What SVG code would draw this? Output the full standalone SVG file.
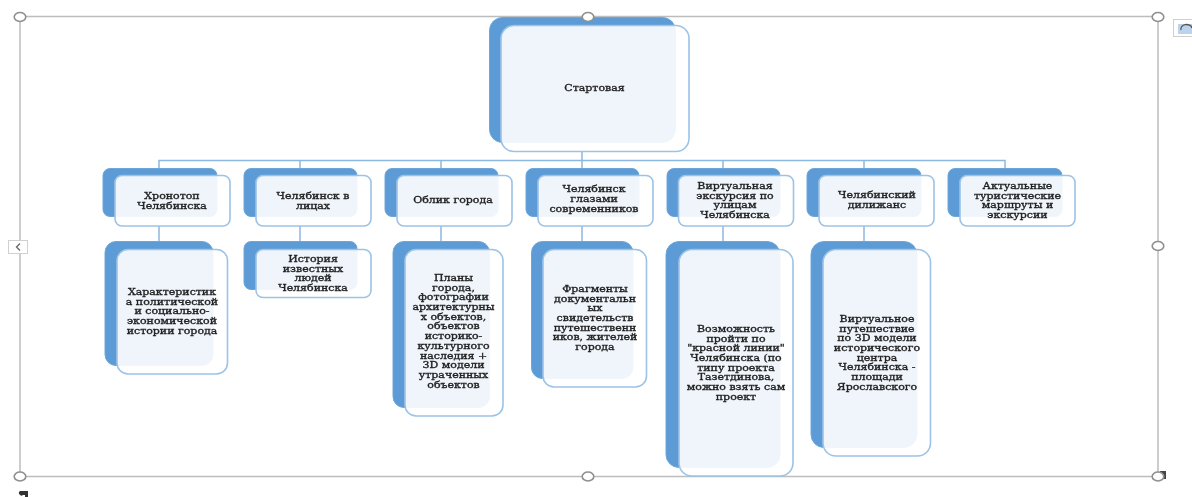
<svg xmlns="http://www.w3.org/2000/svg" width="1192" height="497" viewBox="0 0 1192 497">
<style>
.b{fill:#5b9bd5;stroke:#6ea6da;stroke-width:1}
.f{fill:#fff;fill-opacity:.9;stroke:#9cc3e6;stroke-width:1.6}
.c{fill:none;stroke:#8db8e0;stroke-width:1.5}
.s{fill:none;stroke:#bdbdbd;stroke-width:1.5}
.h{fill:#fff;stroke:#8f8f8f;stroke-width:1.6}
text{font-family:"DejaVu Serif","Liberation Serif",serif;font-size:11px;fill:#222;text-anchor:middle;stroke:#222;stroke-width:.4}
</style>
<defs><filter id="soft" x="-5%" y="-5%" width="110%" height="110%"><feGaussianBlur stdDeviation="0.4"/></filter></defs>
<g filter="url(#soft)">
<g id="frame">
<rect class="s" x="20" y="16.500" width="1138" height="460"/>
<rect x="8.500" y="240.500" width="19" height="13" fill="#fff" stroke="#d0d0d0"/>
<path d="M20 243.500l-3.500 3.500 3.500 3.500" fill="none" stroke="#666" stroke-width="1.300"/>
<rect x="1173.500" y="19.500" width="19" height="17" fill="#fff" stroke="#cfcfcf"/>
<rect x="1178" y="24" width="14" height="10" fill="#bcd3ec"/>
<path d="M1181 30a5 4 0 0 1 11 -2" fill="none" stroke="#555" stroke-width="1.300"/>
<path d="M1160 471h6v8h-3v-5h-3z" fill="#444"/>
<path d="M20 491h8v6h-3v-2h-2a2 2 0 0 1-3-4z" fill="#333"/>
</g>
<g id="connectors">
<path class="c" d="M582 151V168M159 168V160.500H1005V175M300 160.500V168M441 160.500V168M723 160.500V168M864 160.500V168M159 226V241M300 226V241M441 226V241M582 226V241M723 226V241M864 226V241"/>
</g>
<g id="root"><rect class="b" x="489.500" y="17.500" width="186" height="125" rx="13"/><rect class="f" x="501" y="25.500" width="188" height="126" rx="13"/><text transform="scale(1 .85)" x="594.500" y="107.060">Стартовая</text></g>
<g id="n1"><rect class="b" x="103" y="168.500" width="114" height="48" rx="7"/><rect class="f" x="115" y="175.500" width="115" height="50.500" rx="7"/><text transform="scale(1 .85)" x="172" y="234.120">Хронотоп<tspan x="172" dy="11.410">Челябинска</tspan></text></g>
<g id="n2"><rect class="b" x="244" y="168.500" width="113" height="48" rx="7"/><rect class="f" x="256" y="175.500" width="115" height="50.500" rx="7"/><text transform="scale(1 .85)" x="313" y="234.120">Челябинск в<tspan x="313" dy="11.410">лицах</tspan></text></g>
<g id="n3"><rect class="b" x="385" y="168.500" width="113" height="48" rx="7"/><rect class="f" x="397" y="175.500" width="115" height="50.500" rx="7"/><text transform="scale(1 .85)" x="453" y="238.820">Облик города</text></g>
<g id="n4"><rect class="b" x="526" y="168.500" width="113" height="48" rx="7"/><rect class="f" x="538" y="175.500" width="115" height="50.500" rx="7"/><text transform="scale(1 .85)" x="594" y="225.880">Челябинск<tspan x="594" dy="11.600">глазами</tspan><tspan x="594" dy="11.600">современников</tspan></text></g>
<g id="n5"><rect class="b" x="667" y="168.500" width="113" height="48" rx="7"/><rect class="f" x="678.500" y="175.500" width="115" height="50.500" rx="7"/><text transform="scale(1 .85)" x="735" y="222.350">Виртуальная<tspan x="735" dy="11.410">экскурсия по</tspan><tspan x="735" dy="11.410">улицам</tspan><tspan x="735" dy="11.410">Челябинска</tspan></text></g>
<g id="n6"><rect class="b" x="807" y="168.500" width="114" height="48" rx="7"/><rect class="f" x="819" y="175.500" width="115" height="50.500" rx="7"/><text transform="scale(1 .85)" x="877" y="233.530">Челябинский<tspan x="877" dy="11.410">дилижанс</tspan></text></g>
<g id="n7"><rect class="b" x="948" y="168.500" width="114" height="48" rx="7"/><rect class="f" x="960" y="175.500" width="115" height="50.500" rx="7"/><text transform="scale(1 .85)" x="1017.500" y="222.350">Актуальные<tspan x="1017.500" dy="11.410">туристические</tspan><tspan x="1017.500" dy="11.410">маршруты и</tspan><tspan x="1017.500" dy="11.410">экскурсии</tspan></text></g>
<g id="c1"><rect class="b" x="105" y="241.500" width="108" height="124" rx="11"/><rect class="f" x="117" y="249.500" width="110.500" height="124.500" rx="11"/><text transform="scale(1 .85)" x="172" y="347.060">Характеристик<tspan x="172" dy="11.410">а политической</tspan><tspan x="172" dy="11.410">и социально-</tspan><tspan x="172" dy="11.410">экономической</tspan><tspan x="172" dy="11.410">истории города</tspan></text></g>
<g id="c2"><rect class="b" x="244" y="241.500" width="113" height="48" rx="7"/><rect class="f" x="256" y="249.500" width="115" height="48" rx="7"/><text transform="scale(1 .85)" x="313" y="308.240">История<tspan x="313" dy="11.410">известных</tspan><tspan x="313" dy="11.410">людей</tspan><tspan x="313" dy="11.410">Челябинска</tspan></text></g>
<g id="c3"><rect class="b" x="393" y="241.500" width="96.500" height="166" rx="11"/><rect class="f" x="405" y="249.500" width="98" height="166.500" rx="11"/><text transform="scale(1 .85)" x="453.500" y="330.590">Планы<tspan x="453.500" dy="11.410">города,</tspan><tspan x="453.500" dy="11.410">фотографии</tspan><tspan x="453.500" dy="11.410">архитектурны</tspan><tspan x="453.500" dy="11.410">х объектов,</tspan><tspan x="453.500" dy="11.410">объектов</tspan><tspan x="453.500" dy="11.410">историко-</tspan><tspan x="453.500" dy="11.410">культурного</tspan><tspan x="453.500" dy="11.410">наследия +</tspan><tspan x="453.500" dy="11.410">3D модели</tspan><tspan x="453.500" dy="11.410">утраченных</tspan><tspan x="453.500" dy="11.410">объектов</tspan></text></g>
<g id="c4"><rect class="b" x="531.500" y="241.500" width="101.500" height="137" rx="11"/><rect class="f" x="543" y="249.500" width="103.500" height="137.500" rx="11"/><text transform="scale(1 .85)" x="595" y="343.530">Фрагменты<tspan x="595" dy="11.410">документальн</tspan><tspan x="595" dy="11.410">ых</tspan><tspan x="595" dy="11.410">свидетельств</tspan><tspan x="595" dy="11.410">путешественн</tspan><tspan x="595" dy="11.410">иков, жителей</tspan><tspan x="595" dy="11.410">города</tspan></text></g>
<g id="c5"><rect class="b" x="666" y="241.500" width="114" height="226" rx="13"/><rect class="f" x="679" y="249.500" width="114" height="226.500" rx="13"/><text transform="scale(1 .85)" x="736" y="390.590">Возможность<tspan x="736" dy="11.410">пройти по</tspan><tspan x="736" dy="11.410">"красной линии"</tspan><tspan x="736" dy="11.410">Челябинска (по</tspan><tspan x="736" dy="11.410">типу проекта</tspan><tspan x="736" dy="11.410">Тазетдинова,</tspan><tspan x="736" dy="11.410">можно взять сам</tspan><tspan x="736" dy="11.410">проект</tspan></text></g>
<g id="c6"><rect class="b" x="811" y="241.500" width="106" height="206" rx="13"/><rect class="f" x="823" y="249.500" width="107.500" height="206.500" rx="13"/><text transform="scale(1 .85)" x="877" y="378.820">Виртуальное<tspan x="877" dy="11.410">путешествие</tspan><tspan x="877" dy="11.410">по 3D модели</tspan><tspan x="877" dy="11.410">исторического</tspan><tspan x="877" dy="11.410">центра</tspan><tspan x="877" dy="11.410">Челябинска -</tspan><tspan x="877" dy="11.410">площади</tspan><tspan x="877" dy="11.410">Ярославского</tspan></text></g>
<g id="handles">
<ellipse class="h" cx="20" cy="17" rx="5.800" ry="4.500"/><ellipse class="h" cx="588" cy="17" rx="5.800" ry="4.500"/><ellipse class="h" cx="1158" cy="17" rx="5.800" ry="4.500"/>
<ellipse class="h" cx="20" cy="476.500" rx="5.800" ry="4.500"/><ellipse class="h" cx="588" cy="476.500" rx="5.800" ry="4.500"/><ellipse class="h" cx="1158" cy="476.500" rx="5.800" ry="4.500"/>
<ellipse class="h" cx="1158" cy="246" rx="5.800" ry="4.500"/>
</g>
</g>
</svg>
